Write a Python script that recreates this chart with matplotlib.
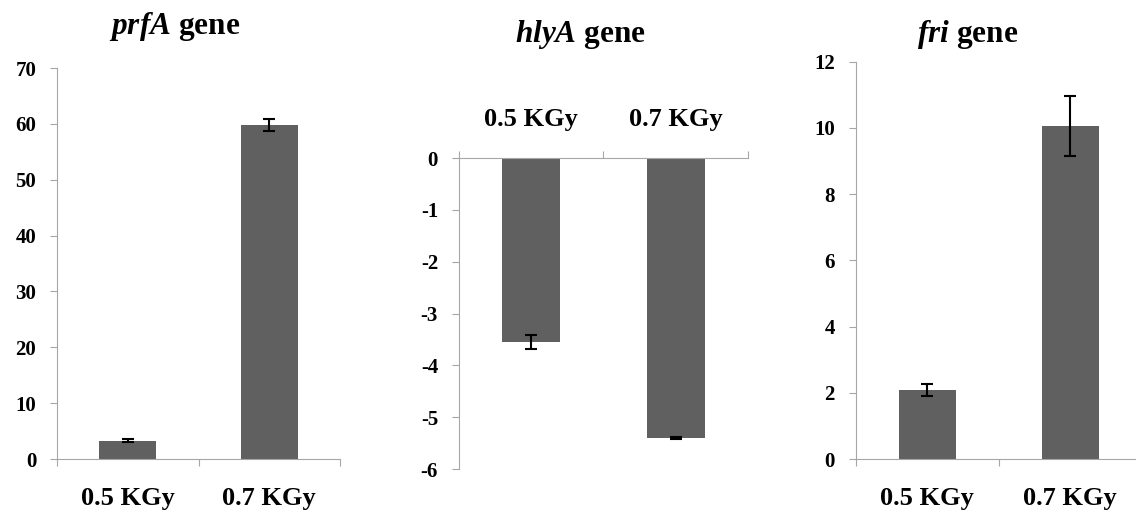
import numpy as np
import matplotlib
matplotlib.use("Agg")
import matplotlib.pyplot as plt

plt.rcParams['font.family'] = ['Liberation Serif', 'DejaVu Serif']
plt.rcParams['font.weight'] = 'bold'
plt.rcParams['mathtext.fontset'] = 'custom'
plt.rcParams['mathtext.it'] = 'Liberation Serif:italic:bold'
plt.rcParams['mathtext.bf'] = 'Liberation Serif:bold'
plt.rcParams['mathtext.rm'] = 'Liberation Serif:bold'

# data
doses = ['0.5 KGy', '0.7 KGy']
prfa_vals = [3.3, 59.8]
prfa_err = [0.2, 1.0]
hlya_vals = [-3.55, -5.40]
hlya_err = [0.14, 0.02]
fri_vals = [2.08, 10.06]
fri_err = [0.18, 0.9]

bar_color = '#606060'
axis_color = '#a6a6a6'

fig = plt.figure(figsize=(11.36, 5.14), dpi=100)


def style_axes(ax, ylim, yticks, top_axis=False):
    x = np.arange(len(doses))
    ax.set_xlim(-0.5, len(doses) - 0.5)
    ax.set_ylim(*ylim)
    ax.set_yticks(yticks)
    ax.set_yticklabels([str(t) for t in yticks], fontsize=15, fontweight='bold')
    for s in ax.spines.values():
        s.set_visible(False)
        s.set_color(axis_color)
    ax.spines['left'].set_visible(True)
    ax.tick_params(axis='y', direction='out', length=5, color=axis_color, pad=10)
    # boundary ticks (major) and category labels (minor)
    ax.set_xticks(np.arange(len(doses) + 1) - 0.5)
    ax.set_xticklabels([])
    ax.set_xticks(x, minor=True)
    ax.set_xticklabels(doses, minor=True, fontsize=19, fontweight='bold')
    if top_axis:
        ax.spines['top'].set_visible(True)
        ax.xaxis.tick_top()
        ax.tick_params(axis='x', which='major', direction='out', length=5, color=axis_color)
        ax.tick_params(axis='x', which='minor', length=0, pad=19.5)
    else:
        ax.spines['bottom'].set_visible(True)
        ax.tick_params(axis='x', which='major', direction='out', length=5, color=axis_color)
        ax.tick_params(axis='x', which='minor', length=0, pad=20.5)


def draw_bars(ax, vals, errs):
    x = np.arange(len(doses))
    ax.bar(x, vals, width=0.4, color=bar_color, zorder=2)
    ax.errorbar(x, vals, yerr=errs, fmt='none', ecolor='black',
                elinewidth=1.5, capsize=4, capthick=1.5, zorder=3)


# prfA
ax1 = fig.add_axes([0.0502, 0.107, 0.2491, 0.7607])
draw_bars(ax1, prfa_vals, prfa_err)
style_axes(ax1, (0, 70), list(range(0, 71, 10)))
fig.text(0.154, 0.948, r'$\it{prfA}\ \bf{gene}$', ha='center', va='center', fontsize=22.5)

# hlyA
ax2 = fig.add_axes([0.404, 0.0875, 0.2544, 0.605])
draw_bars(ax2, hlya_vals, hlya_err)
style_axes(ax2, (-6, 0), list(range(-6, 1)), top_axis=True)
fig.text(0.511, 0.932, r'$\it{hlyA}\ \bf{gene}$', ha='center', va='center', fontsize=22.5)

# fri
ax3 = fig.add_axes([0.7533, 0.107, 0.2518, 0.773])
draw_bars(ax3, fri_vals, fri_err)
style_axes(ax3, (0, 12), list(range(0, 13, 2)))
fig.text(0.852, 0.932, r'$\it{fri}\ \bf{gene}$', ha='center', va='center', fontsize=22.5)

fig.savefig('out.png', dpi=100)
